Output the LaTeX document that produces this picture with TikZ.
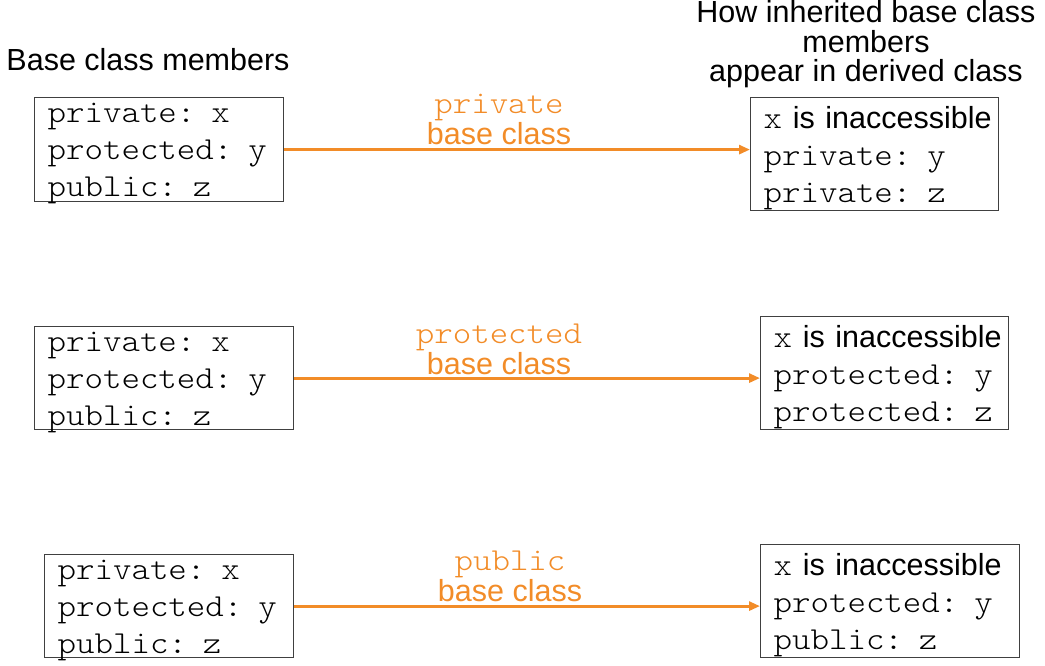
\documentclass[tikz,border=0pt]{standalone}
\usepackage{fontspec}
\setmainfont{Liberation Sans}
\newfontfamily\codefont{lmmonolt10-regular}[Extension=.otf, FakeStretch=1.1]
\newcommand{\inaccx}{\mbox{x{\rmfamily\fontsize{30.5}{37}\selectfont\ is inaccessible}}}
\usetikzlibrary{arrows.meta}
\definecolor{inhorange}{RGB}{242,140,40}
\begin{document}
\begin{tikzpicture}[x=1pt,y=-1pt,
  member/.style={draw=black!75, line width=1.2pt, inner xsep=13pt, inner ysep=0pt, align=left, anchor=north west, text height=23pt, text depth=77pt, font=\fontsize{32}{37}\selectfont\codefont},
  derived/.style={member, text height=24pt, text depth=76pt},
  inherit/.style={draw=inhorange, line width=3pt, -{Triangle[length=11pt,width=9pt]}},
  kind/.style={text=inhorange, font=\fontsize{32}{31}\selectfont\codefont, anchor=base, inner sep=0pt},
  via/.style={text=inhorange, font=\fontsize{30.5}{31}\selectfont, anchor=base, inner sep=0pt},
  heading/.style={font=\fontsize{30.5}{29.5}\selectfont, align=center, inner sep=0pt}]
\useasboundingbox (0,0) rectangle (1045,666);
% headings
\node[heading] (hbase) at (148,60) {Base class members};
\node[heading] (hder) at (866,44.5) {How inherited base class\\members\\appear in derived class};
% base class members
\node[member, text width=223pt, minimum height=104pt] (base1) at (34,97) {private: x\\protected: y\\public: z};
\node[member, text width=233pt, minimum height=103pt] (base2) at (34,326) {private: x\\protected: y\\public: z};
\node[member, text width=223pt, minimum height=103pt] (base3) at (44,554) {private: x\\protected: y\\public: z};
% derived class members
\node[derived, text width=222pt, minimum height=113pt] (der1) at (750,97) {\inaccx\\private: y\\private: z};
\node[derived, text width=222pt, minimum height=113pt] (der2) at (760,316) {\inaccx\\protected: y\\protected: z};
\node[derived, text width=233pt, minimum height=113pt] (der3) at (760,544) {\inaccx\\protected: y\\public: z};
% inheritance arrows
\draw[inherit] (base1.east) -- (base1.east -| der1.west);
\draw[inherit] (base2.east) -- (base2.east -| der2.west);
\draw[inherit] (base3.east) -- (base3.east -| der3.west);
\node[kind] (kind1) at (499,114) {private};
\node[via] (via1) at (499,145) {base class};
\node[kind] (kind2) at (499,343) {protected};
\node[via] (via2) at (499,374) {base class};
\node[kind] (kind3) at (510,570) {public};
\node[via] (via3) at (510,601) {base class};
\end{tikzpicture}
\end{document}
